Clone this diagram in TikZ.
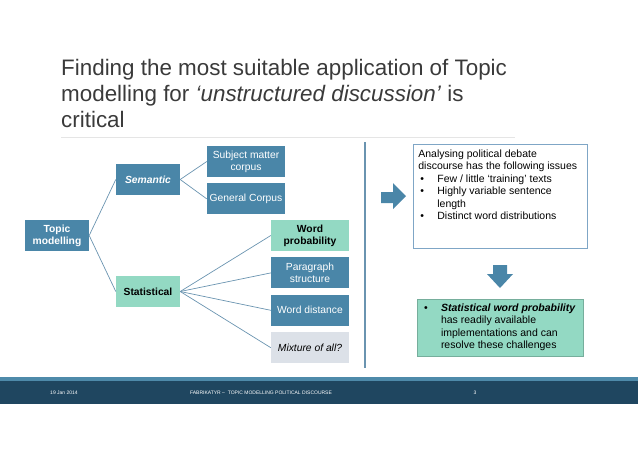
\documentclass[tikz,border=0pt]{standalone}
\usepackage{fontspec}
\setmainfont{Liberation Sans}
\usetikzlibrary{positioning}

\definecolor{boxblue}{HTML}{4A86A8}
\definecolor{boxmint}{HTML}{93D9C3}
\definecolor{boxgrey}{HTML}{DCE1E8}
\definecolor{framblue}{HTML}{7FA6C6}
\definecolor{linkblue}{HTML}{6A94B0}
\definecolor{titlegrey}{HTML}{3A3A3A}
\definecolor{footdark}{HTML}{1F4660}
\definecolor{footlight}{HTML}{4E8AAA}

\newcommand{\boxfont}{\fontsize{10.3}{12}\selectfont}
\newcommand{\brk}{\hfil\break}
\newcommand{\bulletitem}[1]{\hangindent=19pt\hangafter=1\noindent\hspace*{2pt}\makebox[17pt][l]{•}#1\par}

\tikzset{
  leafbox/.style={fill=boxblue, text=white, minimum width=78pt, minimum height=31pt,
    inner sep=1pt, align=center, font=\boxfont},
  midbox/.style={leafbox, minimum width=64pt},
  mintbox/.style={fill=boxmint, text=black},
  link/.style={draw=linkblue, line width=0.7pt},
  foottext/.style={text=white, inner sep=0pt, font=\fontsize{5}{6}\selectfont},
}

\begin{document}
\begin{tikzpicture}[x=1pt, y=-1pt]
    \useasboundingbox (0,0) rectangle (638,451);
    % Title
    \node[anchor=north west, inner sep=0pt, align=left, text=titlegrey,
          font=\fontsize{22.4}{26}\selectfont] (title) at (61,59)
        {Finding the most suitable application of Topic\\
         modelling for \textit{‘unstructured discussion’} is\\
         critical};
    \draw[black!10, line width=0.8pt] (61,137) -- (515,137);
    % Tree
    \node[midbox, font=\bfseries\boxfont] (topic) at (57,235.5) {Topic\\modelling};
    \node[midbox, font=\bfseries\itshape\boxfont] (semantic) at (148,179.5) {Semantic};
    \node[midbox, mintbox, font=\bfseries\boxfont] (statistical) at (148,291.5) {Statistical};
    \node[leafbox] (subject) at (246,161.5) {Subject matter\\corpus};
    \node[leafbox, below=6pt of subject] (general) {General Corpus};
    \node[leafbox, mintbox, font=\bfseries\boxfont] (wordprob) at (310,235.5) {Word\\probability};
    \node[leafbox, below=6pt of wordprob] (paragraph) {Paragraph\\structure};
    \node[leafbox, below=6pt of paragraph] (worddist) {Word distance};
    \node[leafbox, fill=boxgrey, text=black, font=\itshape\boxfont,
          below=6pt of worddist] (mixture) {Mixture of all?};
    \draw[link] (topic.east) -- (semantic.west);
    \draw[link] (topic.east) -- (statistical.west);
    \draw[link] (semantic.east) -- (subject.west);
    \draw[link] (semantic.east) -- (general.west);
    \foreach \leaf in {wordprob, paragraph, worddist, mixture}
        \draw[link] (statistical.east) -- (\leaf.west);
    % Divider
    \draw[linkblue, line width=1.4pt] (365,142) -- (365,368);
    % Arrows
    \fill[boxblue] (381,192) -- (393,192) -- (393,183) -- (406,196) -- (393,209)
        -- (393,203) -- (381,203) -- cycle;
    \fill[boxblue] (493,265) -- (507,265) -- (507,274) -- (513,274) -- (500,288)
        -- (487,274) -- (493,274) -- cycle;
    % Issues and conclusion
    \node[draw=framblue, line width=0.8pt, anchor=north west, inner sep=5pt,
          font=\fontsize{10.5}{12.5}\selectfont] (issues) at (413,144)
        {\parbox[t][94pt][t]{164pt}{\raggedright
         Analysing political debate\brk discourse has the following issues\par
         \bulletitem{Few / little ‘training’ texts}
         \bulletitem{Highly variable sentence\brk length}
         \bulletitem{Distinct word distributions}}};
    \node[fill=boxmint, draw=boxmint!80!black, line width=0.4pt, minimum width=166pt,
          minimum height=57pt, inner sep=5pt,
          font=\fontsize{10.5}{12.5}\selectfont] (answer) at (500,327.5)
        {\parbox{156pt}{\raggedright
         \bulletitem{\textbf{\textit{Statistical word probability}}\brk
         has readily available\brk implementations and can\brk resolve these challenges}}};
    % Footer
    \fill[footlight] (0,377) rectangle (638,381);
    \fill[footdark] (0,381) rectangle (638,404);
    \node[foottext] (date) at (64,393) {19 Jan 2014};
    \node[foottext] (footer) at (261,393) {FABRIKATYR –\ \ TOPIC MODELLING POLITICAL DISCOURSE};
    \node[foottext] (page) at (475,393) {3};
\end{tikzpicture}
\end{document}
